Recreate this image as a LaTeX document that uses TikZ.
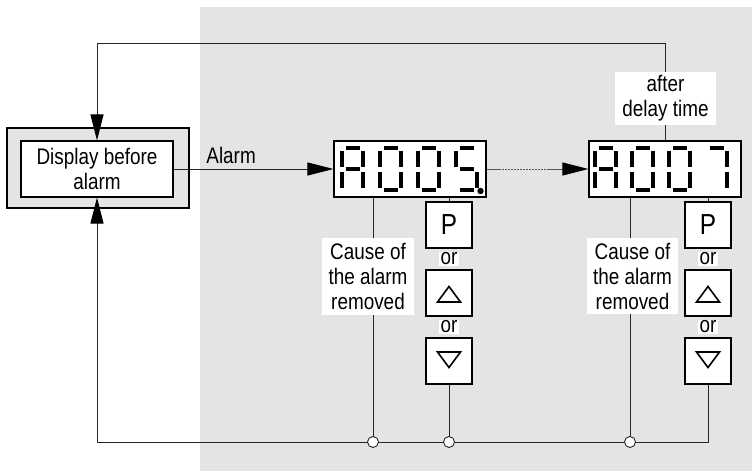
\documentclass[tikz,border=0pt]{standalone}
\usepackage{fontspec}
\setmainfont{Liberation Sans}[FakeStretch=0.84]
\usetikzlibrary{arrows.meta,calc}

\definecolor{panel}{HTML}{E4E4E4}

\tikzset{
  lbl/.style={font=\fontsize{22.5}{25}\selectfont, align=center, inner sep=0pt},
  box/.style={draw=black, fill=white, line width=1.1pt, inner sep=0pt},
  disp/.style={box, minimum width=152, minimum height=56},
  key/.style={box, minimum size=46, font=\fontsize{29}{30}\selectfont},
  note/.style={lbl, fill=white},
  orlbl/.style={lbl, fill=white, inner xsep=2pt, inner ysep=1pt},
  conn/.style={line width=1pt, draw=black!85},
  arr/.style={conn, -{Triangle[length=26pt,width=13pt,black]}},
  junc/.style={circle, draw=black!85, fill=white, line width=0.9pt, minimum size=11, inner sep=0pt},
  tri/.style={line width=1.6pt, line join=miter},
}

% seven-segment parts (digit origin = top left, y pointing down)
\newcommand{\sega}{\fill (6,0) rectangle (19.5,4);}
\newcommand{\segb}{\fill (21.4,4.6) rectangle (25.4,20.8);}
\newcommand{\segc}{\fill (21.4,25.6) rectangle (25.4,41.8);}
\newcommand{\segd}{\fill (6,42.4) rectangle (19.5,46.4);}
\newcommand{\sege}{\fill (0,25.6) rectangle (4,41.8);}
\newcommand{\segf}{\fill (0,4.6) rectangle (4,20.8);}
\newcommand{\segg}{\fill (6,21.2) rectangle (19.5,25.2);}
\newcommand{\digitA}[1]{\begin{scope}[shift={#1}]\sega\segb\segc\sege\segf\segg\end{scope}}
\newcommand{\digitZero}[1]{\begin{scope}[shift={#1}]\sega\segb\segc\segd\sege\segf\end{scope}}
\newcommand{\digitFive}[1]{\begin{scope}[shift={#1}]\sega\segc\segd\segf\segg\end{scope}}
\newcommand{\digitSeven}[1]{\begin{scope}[shift={#1}]\sega\segb\segc\end{scope}}

\begin{document}
\begin{tikzpicture}[x=1pt,y=-1pt]

  \useasboundingbox (0,0) rectangle (752,471);
  \fill[panel] (200,7) rectangle (752,471);

  % Display before alarm
  \node[draw=black, fill=panel, line width=1.1pt, minimum width=182, minimum height=80] (frame) at (98,168) {};
  \node[box, lbl, minimum width=152, minimum height=56] (disp0) at (97,169)
    {\fontsize{22.5}{27}\selectfont Display before\\alarm};

  % Alarm displays
  \node[disp] (d1) at (410,169) {};
  \node[disp] (d2) at (665,169) {};

  \digitA{(340,146)}
  \foreach \dx in {378,416} \digitZero{(\dx,146)};
  \digitFive{(454,146)}
  \fill (480.5,191) circle (3.2);

  \digitA{(593,146)}
  \foreach \dx in {630,667} \digitZero{(\dx,146)};
  \digitSeven{(704,146)}

  % Keys
  \foreach \n/\kx in {1/449,2/708}{
    \node[key] (k\n p) at (\kx,225) {P};
    \node[key] (k\n u) at (\kx,293) {};
    \node[key] (k\n d) at (\kx,361) {};
    \node[orlbl] (or\n a) at (\kx,259) {or};
    \node[orlbl] (or\n b) at (\kx,327) {or};
    \draw[tri] ($(k\n u)+(-11.5,9)$) -- ($(k\n u)+(11.5,9)$) -- ($(k\n u)+(0,-6.5)$) -- cycle;
    \draw[tri] ($(k\n d)+(-11.5,-9)$) -- ($(k\n d)+(11.5,-9)$) -- ($(k\n d)+(0,6.5)$) -- cycle;
  }

  % Junctions on the return line
  \coordinate (j1) at (373,442);
  \coordinate (j2) at (449,442);
  \coordinate (j3) at (630,442);

  % Connectors
  \draw[arr] (disp0.east) -- node[lbl, pos=0.36, above=5pt] {Alarm} (d1.west);
  \draw[arr, draw=black!65] (d1.east) -- (d2.west);
  \draw[panel, line width=1.5pt, dash pattern=on 1.5pt off 1.5pt]
    ($(d1.east)+(14,0)$) -- ($(d1.east)+(62,0)$);

  \draw[arr] (d2.north) -- ++(0,-97) -| (disp0.north);
  \draw[arr] (k2d.south) -- ++(0,58) -| (disp0.south);

  \draw[conn] (d1.south -| j1) -- (j1);
  \draw[conn] (d2.south -| j3) -- (j3);
  \draw[conn] (d1.south -| k1p.north) -- (k1p.north);
  \draw[conn] (d2.south -| k2p.north) -- (k2p.north);
  \draw[conn] (k1d.south) -- (j2);

  % Labels
  \node[note, minimum width=101, minimum height=53] (dl) at (665.5,98.5) {after\\delay time};
  \node[note, minimum width=92, minimum height=77] (c1) at (368,276.5) {Cause of\\the alarm\\removed};
  \node[note, minimum width=91, minimum height=76] (c2) at (632.5,276) {Cause of\\the alarm\\removed};

  \foreach \j in {j1,j2,j3} \node[junc] at (\j) {};

\end{tikzpicture}
\end{document}
